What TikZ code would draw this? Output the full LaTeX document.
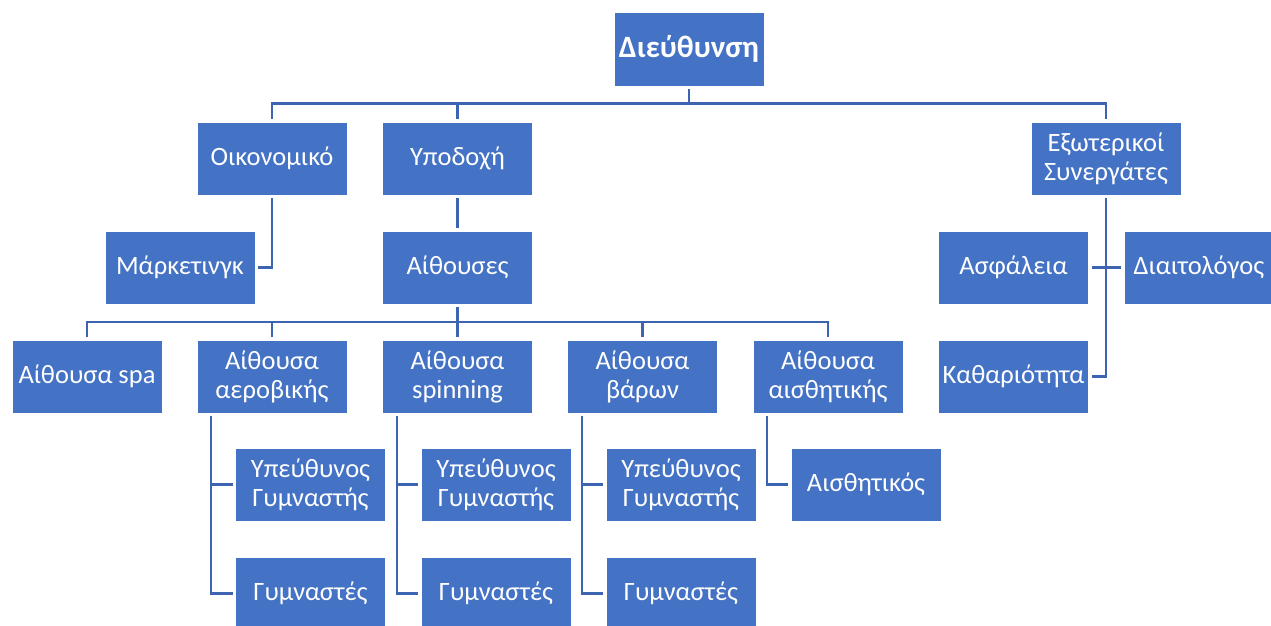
\documentclass[tikz,border=0pt]{standalone}
\usepackage{fontspec}
\setmainfont{Carlito}
\definecolor{boxblue}{HTML}{4472C4}
\definecolor{lineblue}{HTML}{3C64B0}
\tikzset{
  box/.style={rectangle, fill=boxblue, draw=white, line width=0.8pt,
    minimum width=150pt, minimum height=73pt, inner sep=2pt, outer sep=3pt,
    text=white, align=center, font=\fontsize{26.5}{29}\selectfont},
  topbox/.style={box, minimum height=74pt, font=\fontsize{31}{35}\selectfont\bfseries},
  conn/.style={draw=lineblue, line width=2.4pt}
}
\begin{document}
\begin{tikzpicture}[x=1pt,y=-1pt]
\useasboundingbox (0,0) rectangle (1271,626);
\clip (0,0) rectangle (1271,626);
\fill[white] (0,0) rectangle (1271,626);
% nodes
\node[topbox] (dir) at (689,49) {Διεύθυνση};
\node[box] (oik) at (272,158.5) {Οικονομικό};
\node[box] (ypo) at (457.5,158.5) {Υποδοχή};
\node[box] (ext) at (1106,158.5) {Εξωτερικοί\\Συνεργάτες};
\node[box] (mark) at (180,267.5) {Μάρκετινγκ};
\node[box] (aith) at (457.5,267.5) {Αίθουσες};
\node[box] (asf) at (1013.5,267.5) {Ασφάλεια};
\node[box] (diait) at (1199,267.5) {Διαιτολόγος};
\node[box] (spa) at (87,376.5) {Αίθουσα spa};
\node[box] (aer) at (272,376.5) {Αίθουσα\\αεροβικής};
\node[box] (spin) at (457.5,376.5) {Αίθουσα\\spinning};
\node[box] (var) at (642.5,376.5) {Αίθουσα\\βάρων};
\node[box] (ais) at (828,376.5) {Αίθουσα\\αισθητικής};
\node[box] (kath) at (1013.5,376.5) {Καθαριότητα};
\node[box] (yp1) at (310.5,484.5) {Υπεύθυνος\\Γυμναστής};
\node[box] (yp2) at (496,484.5) {Υπεύθυνος\\Γυμναστής};
\node[box] (yp3) at (681,484.5) {Υπεύθυνος\\Γυμναστής};
\node[box] (aisth) at (866,484.5) {Αισθητικός};
\node[box] (gym1) at (310.5,593.5) {Γυμναστές};
\node[box] (gym2) at (496,593.5) {Γυμναστές};
\node[box] (gym3) at (681,593.5) {Γυμναστές};
% helper coordinates
\coordinate (bus0) at (0,103.5);
\coordinate (bus1) at (0,322);
\coordinate (v1) at (211,0);
\coordinate (v2) at (397,0);
\coordinate (v3) at (582,0);
\coordinate (v4) at (767,0);
% top level
\draw[conn] (dir.south) -- (dir.south |- bus0);
\draw[conn] (oik.north) -- (oik.north |- bus0) -- (ext.north |- bus0) -- (ext.north);
\draw[conn] (ypo.north) -- (ypo.north |- bus0);
% Oikonomiko -> Marketing
\draw[conn] (oik.south) |- (mark.east);
% Ypodoxi -> Aithouses
\draw[conn] (ypo.south) -- (aith.north);
% Aithouses -> halls
\draw[conn] (aith.south) -- (aith.south |- bus1);
\draw[conn] (spa.north) -- (spa.north |- bus1) -- (ais.north |- bus1) -- (ais.north);
\draw[conn] (aer.north) -- (aer.north |- bus1);
\draw[conn] (spin.north) -- (spin.north |- bus1);
\draw[conn] (var.north) -- (var.north |- bus1);
% external partners
\draw[conn] (ext.south) |- (kath.east);
\draw[conn] (asf.east) -- (diait.west);
% halls -> staff
\draw[conn] (aer.south -| v1) |- (gym1.west);
\draw[conn] (aer.south -| v1) |- (yp1.west);
\draw[conn] (spin.south -| v2) |- (gym2.west);
\draw[conn] (spin.south -| v2) |- (yp2.west);
\draw[conn] (var.south -| v3) |- (gym3.west);
\draw[conn] (var.south -| v3) |- (yp3.west);
\draw[conn] (ais.south -| v4) |- (aisth.west);
\end{tikzpicture}
\end{document}
